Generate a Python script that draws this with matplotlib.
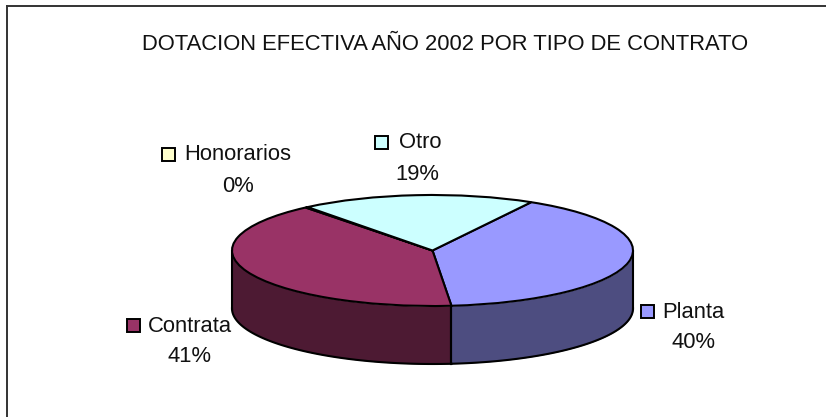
import numpy as np
import matplotlib
matplotlib.use('Agg')
import matplotlib.pyplot as plt

plt.rcParams['font.family'] = ['Liberation Sans', 'DejaVu Sans']

# datos
categorias = ['Planta', 'Contrata', 'Honorarios', 'Otro']
valores = [40.3, 40.6, 0.2, 18.9]
colores = ['#9999FF', '#993366', '#FFFFCC', '#CCFFFF']
colores_lado = ['#4D4D80', '#4D1A33', '#808066', '#668080']
titulo = 'DOTACION EFECTIVA AÑO 2002 POR TIPO DE CONTRATO'

W, H = 826, 417
cx, cy, rx, ry = 432.5, 250.5, 200.5, 55.5
prof = 58
inicio = 60.5
fs = 15.8

fig = plt.figure(figsize=(W / 100, H / 100), dpi=100, facecolor='white')

# eje de la torta: la elipse se logra con aspecto libre
ax = fig.add_axes([0, 0, 1, 1])
ax.pie(valores, colors=colores, startangle=inicio, counterclock=False, radius=1,
       wedgeprops={'edgecolor': 'black', 'linewidth': 1.5, 'zorder': 3})
ax.set_aspect('auto')
ax.set_xlim(-cx / rx, (W - cx) / rx)
ax.set_ylim(-(H - cy) / ry, cy / ry)
ax.set_frame_on(False)

# lado visible de cada porcion (solo la mitad delantera)
d = prof / ry
ang = inicio
for v, c in zip(valores, colores_lado):
    fin = ang - v / sum(valores) * 360
    a = max(ang, fin)
    b = min(ang, fin)
    # parte de la porcion bajo el horizonte: entre -180 y 0 grados
    for k in (0, -360):
        a2 = min(a + k, 0)
        b2 = max(b + k, -180)
        if a2 > b2:
            t = np.radians(np.linspace(a2, b2, 100))
            xs = np.cos(t)
            ax.fill_between(xs, np.sin(t), np.sin(t) - d, color=c, lw=0, zorder=1)
            ax.plot(xs, np.sin(t) - d, color='black', lw=1.5, zorder=2)
            for i in (0, -1):
                ax.plot([xs[i], xs[i]], [np.sin(t[i]), np.sin(t[i]) - d],
                        color='black', lw=1.5, zorder=2)
    ang = fin

# titulo y borde del grafico
fig.text(445 / W, 1 - 45 / H, titulo, ha='center', va='center', fontsize=fs, color='#111111')
fig.add_artist(plt.Line2D([7 / W, 7 / W], [0, 1 - 6 / H], color='#333333', lw=1.4))
fig.add_artist(plt.Line2D([7 / W, 1], [1 - 6 / H, 1 - 6 / H], color='#333333', lw=1.4))

# etiquetas: nombre, porcentaje y cuadro
pos_texto = {'Planta': (693, 313, 693, 343), 'Contrata': (190, 326, 190, 357),
             'Honorarios': (238, 155, 238, 186), 'Otro': (420, 143, 417, 174)}
pos_cuadro = {'Planta': (647, 311.5), 'Contrata': (133.5, 325),
              'Honorarios': (168.5, 154), 'Otro': (381, 142)}
for nombre, v, c in zip(categorias, valores, colores):
    xn, yn, xp, yp = pos_texto[nombre]
    xc, yc = pos_cuadro[nombre]
    fig.text(xn / W, 1 - yn / H, nombre, ha='center', va='center', fontsize=fs, color='#111111')
    fig.text(xp / W, 1 - yp / H, '%d%%' % round(v), ha='center', va='center', fontsize=fs, color='#111111')
    fig.add_artist(plt.Rectangle(((xc - 6.5) / W, 1 - (yc + 6.5) / H), 13 / W, 13 / H,
                                 transform=fig.transFigure,
                                 facecolor=c, edgecolor='black', lw=1.4))

fig.savefig('out.png', dpi=100)
